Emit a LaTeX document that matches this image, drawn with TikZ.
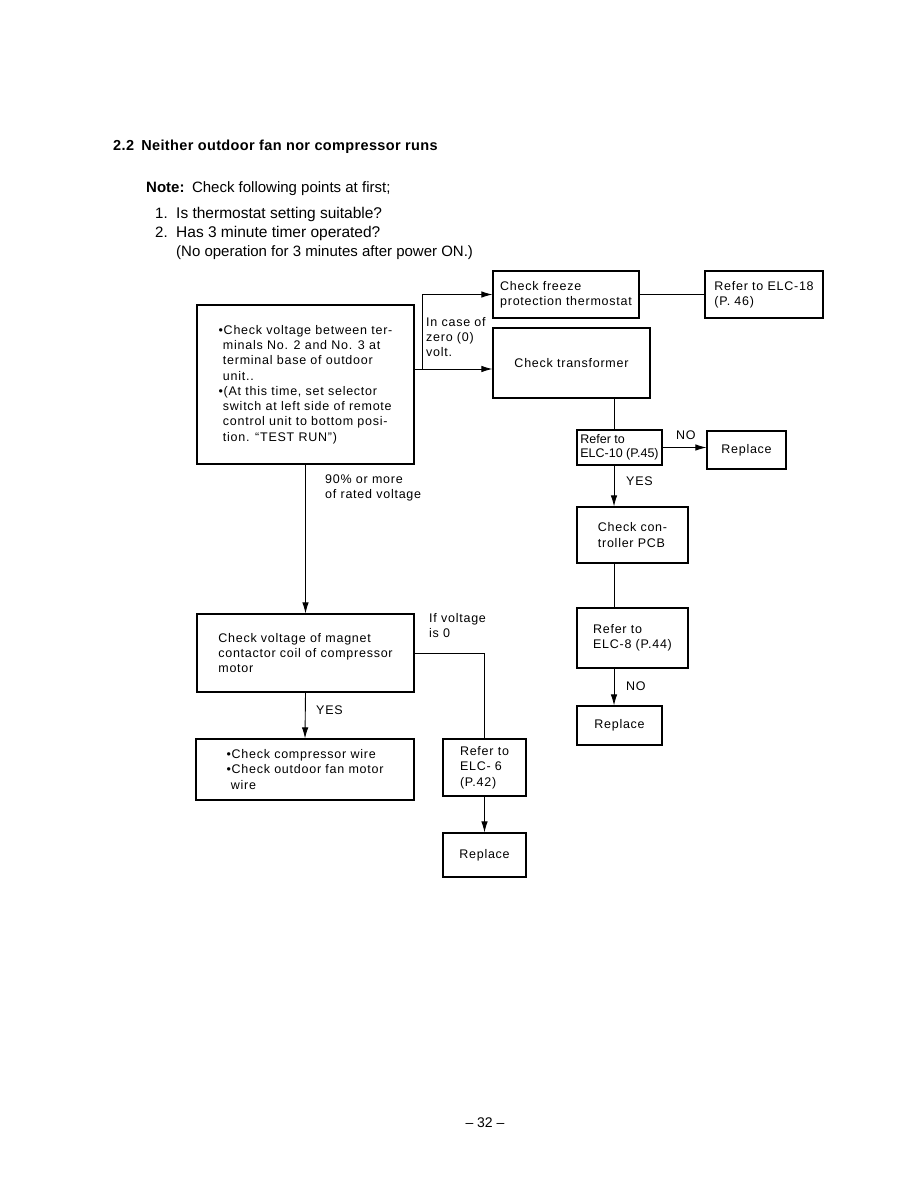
\documentclass[tikz,border=0pt]{standalone}
\usepackage{fontspec}
\setmainfont{Liberation Sans}
\newfontfamily\boxfont[LetterSpace=6]{Liberation Sans}
\newfontfamily\titlefont[LetterSpace=2.5]{Liberation Sans}
\usetikzlibrary{arrows.meta,positioning,calc}

\tikzset{
  box/.style={draw,line width=1.1pt,inner sep=2pt,align=left,
              font=\boxfont\fontsize{12.5}{15.3}\selectfont},
  link/.style={line width=0.9pt},
  arr/.style={line width=0.9pt,-{Latex[length=11pt,width=6.5pt]}},
  lbl/.style={font=\boxfont\fontsize{12.5}{15}\selectfont,align=left,inner sep=0pt},
  head/.style={font=\fontsize{15}{19}\selectfont,anchor=base west,inner sep=0pt}
}

\begin{document}
\begin{tikzpicture}[x=1pt,y=-1pt]
  \useasboundingbox (0,0) rectangle (918,1188);

  % heading and notes
  \node[font=\titlefont\bfseries\fontsize{14.5}{17}\selectfont,anchor=base west,inner sep=0pt]
    (title) at (113,150) {2.2\enspace Neither outdoor fan nor compressor runs};
  \node[head] (note) at (146,192) {\textbf{Note:}\enspace Check following points at first;};
  \node[head] (numA) at (155,218) {1.};
  \node[head,font=\fontsize{15.5}{19}\selectfont] (itemA) at (176,218) {Is thermostat setting suitable?};
  \node[head] (numB) at (155,237) {2.};
  \node[head,font=\fontsize{15.5}{19}\selectfont] (itemB) at (176,237) {Has 3 minute timer operated?};
  \node[head] (itemC) at (176,256) {(No operation for 3 minutes after power ON.)};

  % left column
  \node[box,minimum width=217pt,minimum height=159pt]
    (volt) at (305.5,384.5)
    {\textbullet Check voltage between ter-\\
     \phantom{\textbullet}minals No. 2 and No. 3 at\\
     \phantom{\textbullet}terminal base of outdoor\\
     \phantom{\textbullet}unit..\\
     \textbullet (At this time, set selector\\
     \phantom{\textbullet}switch at left side of remote\\
     \phantom{\textbullet}control unit to bottom posi-\\
     \phantom{\textbullet}tion. \textquotedblleft TEST RUN\textquotedblright)};
  \node[box,minimum width=217pt,minimum height=78pt]
    (magnet) at (305.5,653)
    {Check voltage of magnet\\contactor coil of compressor\\motor};
  \node[box,minimum width=218pt,minimum height=61pt]
    (wires) at (305,769.5)
    {\textbullet Check compressor wire\\
     \textbullet Check outdoor fan motor\\
     \phantom{\textbullet}wire};
  \node[box,minimum width=83pt,minimum height=57pt]
    (elc6) at (484.5,767.5) {Refer to\\ELC- 6\\(P.42)};

  % right column
  \node[box,minimum width=146pt,minimum height=47pt]
    (freeze) at (566,294.5) {Check freeze\\protection thermostat};
  \node[box,minimum width=118pt,minimum height=47pt]
    (elc18) at (764,294.5) {Refer to ELC-18\\(P. 46)};
  \node[box,minimum width=157pt,minimum height=70pt]
    (xfmr) at (571.5,363) {Check transformer};
  \node[box,minimum width=85pt,minimum height=35pt,inner sep=1pt,
        font=\fontsize{12.5}{14}\selectfont]
    (elc10) at (619.5,447.5) {Refer to\\ELC-10 (P.45)};
  \node[box,minimum width=111pt,minimum height=56pt]
    (pcb) at (632.5,535) {Check con-\\troller PCB};
  \node[box,minimum width=111pt,minimum height=60pt]
    (elc8) at (632.5,638) {Refer to\\ELC-8 (P.44)};

  \foreach \name/\x/\y/\w/\h in {repA/746.5/450/79/38, repB/619.5/725.5/85/39,
                                 repC/484.5/855/83/44}{
    \node[box,minimum width=\w pt,minimum height=\h pt] (\name) at (\x,\y) {Replace};
  }

  % connectors
  \coordinate (split) at (422,369);
  \coordinate (spine) at (614,0);
  \draw[arr] (volt.east |- split) -- (xfmr.west |- split);
  \draw[arr] (split) |- (freeze.west);
  \draw[link] (freeze.east) -- (elc18.west);
  \draw[link] (xfmr.south -| spine) -- (elc10.north -| spine);
  \draw[arr] (elc10.east) -- (elc10.east -| repA.west);
  \draw[arr] (elc10.south -| spine) -- (pcb.north -| spine);
  \draw[link] (pcb.south -| spine) -- (elc8.north -| spine);
  \draw[arr] (elc8.south -| spine) -- (repB.north -| spine);
  \draw[arr] (volt.south) -- (magnet.north);
  \draw[arr] (magnet.south) -- (wires.north);
  \draw[link] (magnet.east) -| (elc6.north);
  \draw[arr] (elc6.south) -- (repC.north);

  % connector labels
  \node[lbl,anchor=north west] (zero) at (426,317) {In case of\\zero (0)\\volt.};
  \node[lbl,anchor=north west] (rated) at (325,475) {90\% or more\\of rated voltage};
  \node[lbl,anchor=west] (yesA) at (316,710) {YES};
  \node[lbl,anchor=west] (noA) at (676,435) {NO};
  \node[lbl,anchor=west] (yesB) at (626,481) {YES};
  \node[lbl,anchor=west] (noB) at (626,686) {NO};
  \node[lbl,anchor=north west] (ifzero) at (429,613) {If voltage\\is 0};

  % page number
  \node[font=\fontsize{14}{16}\selectfont,anchor=base,inner sep=0pt]
    (page) at (485,1127) {-- 32 --};
\end{tikzpicture}
\end{document}
